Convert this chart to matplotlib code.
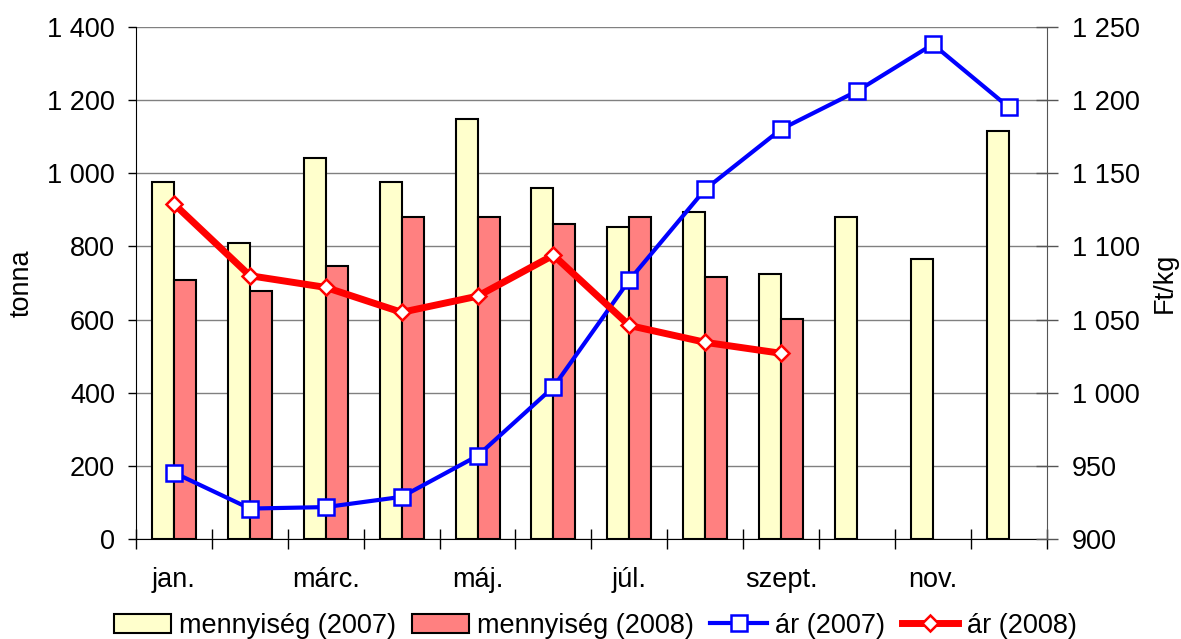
import numpy as np
import matplotlib.pyplot as plt
from matplotlib.ticker import FuncFormatter, FixedLocator

plt.rcParams['font.family'] = ['Liberation Sans', 'DejaVu Sans']

# Data
months = ['jan.', 'febr.', 'márc.', 'ápr.', 'máj.', 'jún.',
          'júl.', 'aug.', 'szept.', 'okt.', 'nov.', 'dec.']
qty_2007 = [977, 809, 1041, 975, 1148, 959, 854, 893, 725, 879, 765, 1115]
qty_2008 = [708, 678, 746, 879, 879, 860, 879, 716, 602]
price_2007 = [945.5, 921, 922, 929, 957, 1004, 1077, 1139, 1180, 1206, 1238, 1195]
price_2008 = [1129, 1080, 1072, 1055, 1066, 1094, 1046, 1034.5, 1027]

FS = 19.5


def space_thousands(v, pos):
    return f'{int(round(v)):,}'.replace(',', ' ')


fig = plt.figure(figsize=(11.81, 6.39), dpi=100)
ax = fig.add_axes([0.1152, 0.156, 0.7711, 0.8022])

x = np.arange(len(months))
x8 = np.arange(len(qty_2008))
w = 0.29
ax.bar(x - w / 2, qty_2007, width=w, color='#FFFFCC', edgecolor='black',
       linewidth=1.5, label='mennyiség (2007)', zorder=2)
ax.bar(x8 + w / 2, qty_2008, width=w, color='#FF8080', edgecolor='black',
       linewidth=1.5, label='mennyiség (2008)', zorder=2)

ax.set_xlim(-0.5, len(months) - 0.5)
ax.set_ylim(0, 1400)
ax.set_yticks(np.arange(0, 1401, 200))
ax.yaxis.set_major_formatter(FuncFormatter(space_thousands))
ax.yaxis.grid(True, color='#808080', linewidth=1, zorder=0)
ax.set_axisbelow(True)
ax.tick_params(axis='y', direction='out', length=6, width=1, pad=9, labelsize=FS)
ax.set_ylabel('tonna', fontsize=FS, labelpad=9)

# month labels every other month, tick marks between categories
ax.set_xticks(x[::2])
ax.set_xticklabels(months[::2])
ax.tick_params(axis='x', which='major', length=0, pad=20, labelsize=FS)
ax.xaxis.set_minor_locator(FixedLocator(np.arange(-0.5, len(months), 1)))
ax.tick_params(axis='x', which='minor', direction='inout', length=15, width=1)

ax.spines['top'].set_visible(False)
ax.spines['right'].set_visible(False)

ax2 = ax.twinx()
ax2.plot(x, price_2007, color='#0000FF', linewidth=3, marker='s', markersize=11,
         markerfacecolor='white', markeredgecolor='#0000FF', markeredgewidth=1.8,
         label='ár (2007)', zorder=3)
ax2.plot(x8, price_2008, color='#FF0000', linewidth=5, marker='D', markersize=8.5,
         markerfacecolor='white', markeredgecolor='#FF0000', markeredgewidth=1.8,
         label='ár (2008)', zorder=4)
ax2.set_ylim(900, 1250)
ax2.set_yticks(np.arange(900, 1251, 50))
ax2.yaxis.set_major_formatter(FuncFormatter(space_thousands))
ax2.tick_params(axis='y', direction='inout', length=16, width=1, pad=10,
                labelsize=FS, color='#555555')
ax2.set_ylabel('Ft/kg', fontsize=FS, labelpad=9)
ax2.spines['top'].set_visible(False)
ax2.spines['left'].set_visible(False)
ax2.spines['bottom'].set_visible(False)
ax2.spines['right'].set_color('#555555')

h1, l1 = ax.get_legend_handles_labels()
h2, l2 = ax2.get_legend_handles_labels()
fig.legend(h1 + h2, l1 + l2, loc='center', bbox_to_anchor=(0.504, 0.021),
           ncol=4, frameon=False, fontsize=FS, handlelength=2.1,
           handletextpad=0.3, columnspacing=0.6, borderpad=0)

fig.savefig('out.png', dpi=100)
